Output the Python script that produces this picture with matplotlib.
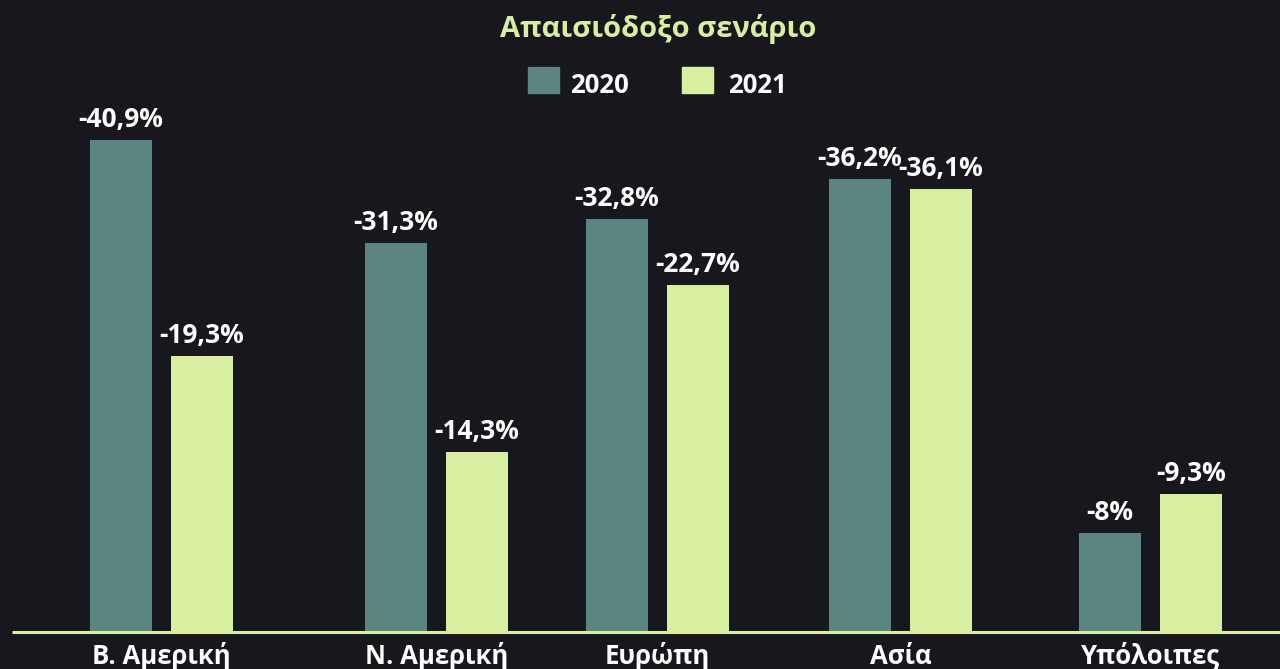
import matplotlib
matplotlib.use("Agg")
import matplotlib.pyplot as plt
from matplotlib.patches import Rectangle

plt.rcParams['font.family'] = ['Open Sans', 'DejaVu Sans']
plt.rcParams['font.weight'] = 'bold'

# data
categories = ['Β. Αμερική', 'Ν. Αμερική', 'Ευρώπη', 'Ασία', 'Υπόλοιπες']
series_names = ['2020', '2021']
# bar heights as drawn (the printed labels do not match the bar lengths exactly)
heights_2020 = [40.9, 32.3, 34.3, 37.7, 8.2]
heights_2021 = [22.9, 14.9, 28.8, 36.8, 11.4]
labels_2020 = ['-40,9%', '-31,3%', '-32,8%', '-36,2%', '-8%']
labels_2021 = ['-19,3%', '-14,3%', '-22,7%', '-36,1%', '-9,3%']

bg = '#16181d'
teal = '#5a8581'
green = '#d8eea0'

W, H = 1280, 669
fig = plt.figure(figsize=(W / 100, H / 100), dpi=100, facecolor=bg)
ax = fig.add_axes([0, 0, 1, 1])
ax.set_facecolor(bg)

# pixel-based layout: 12 px per percentage point, baseline at y=631 px
px_per_unit = 12.0
base_px = 631
ax.set_xlim(0, W)
ax.set_ylim(-(H - base_px) / px_per_unit, base_px / px_per_unit)
ax.axis('off')

centers = [161.5, 436.5, 657.5, 900.5, 1150.5]
bar_w = 62
offset = 40.5

x20 = [c - offset for c in centers]
x21 = [c + offset for c in centers]
ax.bar(x20, heights_2020, width=bar_w, color=teal, zorder=2)
ax.bar(x21, heights_2021, width=bar_w, color=green, zorder=2)

for xs, hs, labs in [(x20, heights_2020, labels_2020), (x21, heights_2021, labels_2021)]:
    for x, h, lab in zip(xs, hs, labs):
        ax.annotate(lab, (x, h), xytext=(0, 13), textcoords='offset pixels',
                    ha='center', va='baseline', color='white',
                    fontsize=19, fontweight='bold')

# baseline
ax.plot([12, W], [-0.1, -0.1], color=green, lw=2.2, zorder=3, solid_capstyle='butt')

# category labels (partly cut at the bottom edge)
for c, cat in zip(centers, categories):
    ax.text(c, -(664 - base_px) / px_per_unit, cat, ha='center', va='baseline',
            color='white', fontsize=18.5, fontweight='bold')

# title
fig.text(658 / W, 1 - 37 / H, 'Απαισιόδοξο σενάριο', ha='center', va='baseline',
         color=green, fontsize=21, fontweight='bold')

# legend
for sx, tx, col, name in [(528, 570, teal, series_names[0]), (682, 728, green, series_names[1])]:
    fig.patches.append(Rectangle((sx / W, 1 - 93 / H), 31 / W, 26 / H,
                                 transform=fig.transFigure, color=col, figure=fig))
    fig.text(tx / W, 1 - 93 / H, name, ha='left', va='baseline',
             color='white', fontsize=18.5, fontweight='bold')

fig.savefig('out.png', dpi=100, facecolor=bg)
